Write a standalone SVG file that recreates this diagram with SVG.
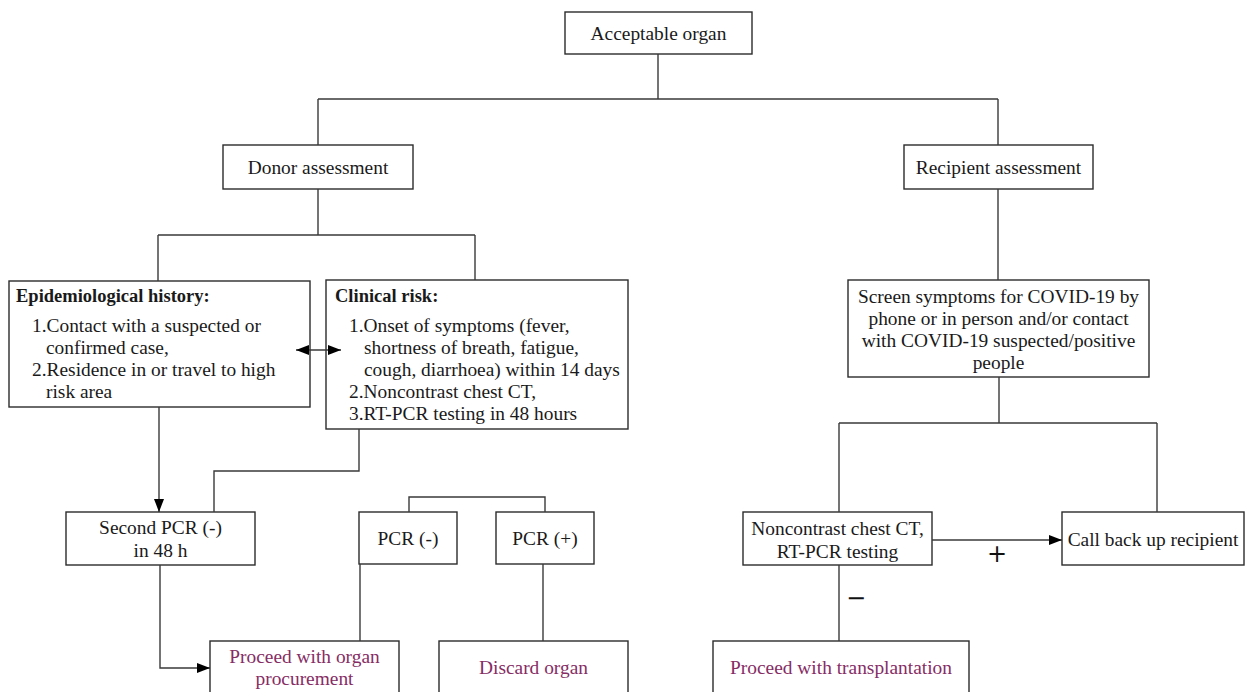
<svg xmlns="http://www.w3.org/2000/svg" width="1252" height="692" viewBox="0 0 1252 692">
  <style>
    .box { fill: #ffffff; stroke: #2b2b2b; stroke-width: 1.4; }
    .ln { fill: none; stroke: #3a3a3a; stroke-width: 1.4; }
    .t { font-family: "Liberation Serif", "Times New Roman", serif; font-size: 19.4px; fill: #1a1a1a; }
    .c { text-anchor: middle; }
    .b { font-weight: bold; font-size: 18.5px; }
    .p { fill: #862d65; }
    .sym { font-family: "DejaVu Sans", sans-serif; font-size: 24px; fill: #111; text-anchor: middle; }
  </style>
  <defs>
    <marker id="ah" viewBox="0 0 13 10" refX="13" refY="5" markerWidth="13" markerHeight="10" orient="auto-start-reverse" markerUnits="userSpaceOnUse">
      <path d="M0,0 L13,5 L0,10 z" fill="#000"/>
    </marker>
  </defs>
  <rect width="1252" height="692" fill="#ffffff"/>

  <g id="acceptable-organ">
    <rect class="box" x="565" y="12" width="187" height="42"/>
    <text class="t c" x="658.5" y="40">Acceptable organ</text>
  </g>

  <g id="donor-assessment">
    <rect class="box" x="223" y="145" width="190" height="44"/>
    <text class="t c" x="318" y="174">Donor assessment</text>
  </g>

  <g id="recipient-assessment">
    <rect class="box" x="904" y="145" width="189" height="44"/>
    <text class="t c" x="998.5" y="174">Recipient assessment</text>
  </g>

  <g id="epidemiological-history">
    <rect class="box" x="9" y="281" width="301" height="126"/>
    <text class="t b" x="16" y="302">Epidemiological history:</text>
    <text class="t" x="32" y="332">1.Contact with a suspected or</text>
    <text class="t" x="46" y="354">confirmed case,</text>
    <text class="t" x="32" y="376">2.Residence in or travel to high</text>
    <text class="t" x="46" y="398">risk area</text>
  </g>

  <g id="clinical-risk">
    <rect class="box" x="326" y="280" width="302" height="149"/>
    <text class="t b" x="335" y="302">Clinical risk:</text>
    <text class="t" x="349" y="332">1.Onset of symptoms (fever,</text>
    <text class="t" x="364" y="354">shortness of breath, fatigue,</text>
    <text class="t" x="364" y="376">cough, diarrhoea) within 14 days</text>
    <text class="t" x="349" y="398">2.Noncontrast chest CT,</text>
    <text class="t" x="349" y="420">3.RT-PCR testing in 48 hours</text>
  </g>

  <g id="screen-symptoms">
    <rect class="box" x="848" y="280" width="301" height="97"/>
    <text class="t c" x="998.5" y="303">Screen symptoms for COVID-19 by</text>
    <text class="t c" x="998.5" y="325">phone or in person and/or contact</text>
    <text class="t c" x="998.5" y="347">with COVID-19 suspected/positive</text>
    <text class="t c" x="998.5" y="369">people</text>
  </g>

  <g id="second-pcr">
    <rect class="box" x="66" y="512" width="189" height="53"/>
    <text class="t c" x="160.5" y="534">Second PCR (-)</text>
    <text class="t c" x="160.5" y="557">in 48 h</text>
  </g>

  <g id="pcr-negative">
    <rect class="box" x="359" y="512" width="98" height="52"/>
    <text class="t c" x="408" y="545">PCR (-)</text>
  </g>

  <g id="pcr-positive">
    <rect class="box" x="496" y="512" width="98" height="52"/>
    <text class="t c" x="545" y="545">PCR (+)</text>
  </g>

  <g id="noncontrast-ct">
    <rect class="box" x="743" y="512" width="189" height="53"/>
    <text class="t c" x="837.5" y="535">Noncontrast chest CT,</text>
    <text class="t c" x="837.5" y="558">RT-PCR testing</text>
  </g>

  <g id="call-back">
    <rect class="box" x="1062" y="512" width="182" height="53"/>
    <text class="t c" x="1153" y="546">Call back up recipient</text>
  </g>

  <g id="proceed-procurement">
    <rect class="box" x="210" y="641" width="189" height="60"/>
    <text class="t c p" x="304.5" y="663">Proceed with organ</text>
    <text class="t c p" x="304.5" y="685">procurement</text>
  </g>

  <g id="discard-organ">
    <rect class="box" x="439" y="641" width="189" height="60"/>
    <text class="t c p" x="533.5" y="674">Discard organ</text>
  </g>

  <g id="proceed-transplantation">
    <rect class="box" x="713" y="641" width="256" height="60"/>
    <text class="t c p" x="841" y="674">Proceed with transplantation</text>
  </g>

  <g id="connectors">
    <path class="ln" d="M658,54 V99 M318,99 H998 M318,99 V145 M998,99 V145"/>
    <path class="ln" d="M318,189 V235 M158,235 H475 M158,235 V281 M475,235 V280"/>
    <path class="ln" d="M998,189 V280"/>
    <line class="ln" x1="296" y1="350" x2="341" y2="350" marker-start="url(#ah)" marker-end="url(#ah)"/>
    <line class="ln" x1="159" y1="407" x2="159" y2="512" marker-end="url(#ah)"/>
    <path class="ln" d="M359,429 V471 H214 V512"/>
    <path class="ln" d="M409,512 V497 H545 V512"/>
    <path class="ln" d="M160,565 V668 H210" marker-end="url(#ah)"/>
    <path class="ln" d="M360,564 V641"/>
    <path class="ln" d="M543,564 V641"/>
    <path class="ln" d="M999,377 V423 M839,423 H1157 M839,423 V512 M1157,423 V512"/>
    <line class="ln" x1="932" y1="540" x2="1062" y2="540" marker-end="url(#ah)"/>
    <path class="ln" d="M839,565 V641"/>
    <text class="sym" x="997" y="562">+</text>
    <text class="sym" x="856" y="606">−</text>
  </g>
</svg>
